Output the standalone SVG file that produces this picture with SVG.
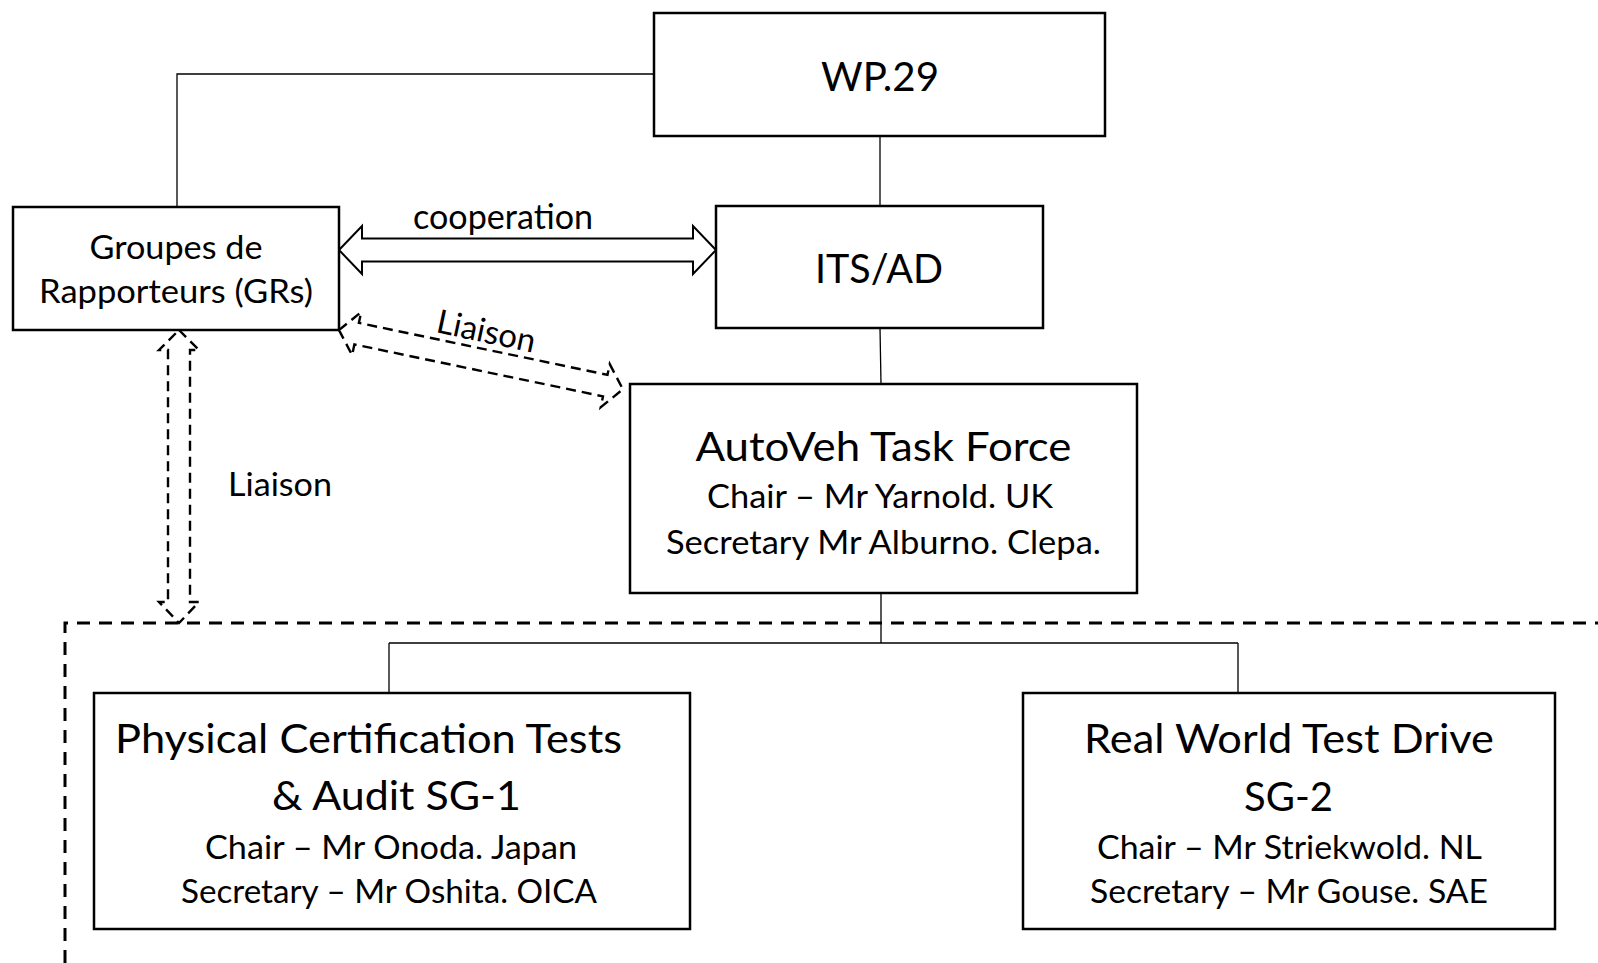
<svg xmlns="http://www.w3.org/2000/svg" width="1598" height="963" viewBox="0 0 1598 963">
<style>
.box{fill:#fff;stroke:#000;stroke-width:2.5}
.conn{fill:none;stroke:#000;stroke-width:1.3}
.blk{fill:#fff;stroke:#000;stroke-width:2}
.dblk{fill:#fff;stroke:#000;stroke-width:2.4;stroke-dasharray:10 6}
.cont{fill:none;stroke:#000;stroke-width:3;stroke-dasharray:13 9}
text{font-family:Lato,"Liberation Sans",sans-serif;fill:#000}
.big{font-size:41px}
.mid{font-size:34px}
.sm{font-size:33px}
.c{text-anchor:middle}
</style>
<rect width="1598" height="963" fill="#fff"/>
<g id="connectors">
<path class="conn" d="M654,74 H177 V207"/>
<path class="conn" d="M880,136 V206"/>
<path class="conn" d="M880,328 L881,384"/>
<path class="conn" d="M881,594 V643 M389,643 H1238 M389,643 V693 M1238,643 V693"/>
<path class="cont" d="M65,963 V623 H1598"/>
<g id="cooperation">
<path class="blk" d="M339,250 L362,226 L362,238.5 L693,238.5 L693,226 L716,250 L693,274 L693,261.5 L362,261.5 L362,274 Z"/>
<text class="mid" x="413" y="229" textLength="180" lengthAdjust="spacingAndGlyphs">cooperation</text>
</g>
<g id="liaison-diag">
<path class="dblk" transform="translate(339,330) rotate(11.8)" d="M0,0 L18,-22 L18,-11 L272,-11 L272,-22 L290,0 L272,22 L272,11 L18,11 L18,22 Z"/>
<text class="sm" transform="translate(435,332) rotate(12)" x="0" y="0" textLength="100" lengthAdjust="spacingAndGlyphs">Liaison</text>
</g>
<g id="liaison-vert">
<path class="dblk" d="M179,330 L199,350 L190,350 L190,602 L199,602 L179,623 L159,602 L168,602 L168,350 L159,350 Z"/>
<text class="sm" x="228" y="496" textLength="104" lengthAdjust="spacingAndGlyphs">Liaison</text>
</g>
</g>
<g id="wp29">
<rect class="box" x="654" y="13" width="451" height="123"/>
<text class="big c" x="880" y="91" textLength="118" lengthAdjust="spacingAndGlyphs">WP.29</text>
</g>
<g id="itsad">
<rect class="box" x="716" y="206" width="327" height="122"/>
<text class="big c" x="879" y="283" textLength="128" lengthAdjust="spacingAndGlyphs">ITS/AD</text>
</g>
<g id="grs">
<rect class="box" x="13" y="207" width="326" height="123"/>
<text class="sm c" x="176" y="259" textLength="173" lengthAdjust="spacingAndGlyphs">Groupes de</text>
<text class="sm c" x="176" y="303" textLength="274" lengthAdjust="spacingAndGlyphs">Rapporteurs (GRs)</text>
</g>
<g id="autoveh">
<rect class="box" x="630" y="384" width="507" height="209"/>
<text class="big c" x="883.5" y="461" textLength="376" lengthAdjust="spacingAndGlyphs">AutoVeh Task Force</text>
<text class="sm c" x="880" y="508" textLength="346" lengthAdjust="spacingAndGlyphs">Chair – Mr Yarnold. UK</text>
<text class="sm c" x="883.5" y="554" textLength="435" lengthAdjust="spacingAndGlyphs">Secretary Mr Alburno. Clepa.</text>
</g>
<g id="sg1">
<rect class="box" x="94" y="693" width="596" height="236"/>
<text class="big" x="115" y="753" textLength="507" lengthAdjust="spacingAndGlyphs">Physical Certification Tests</text>
<text class="big" x="272" y="810" textLength="249" lengthAdjust="spacingAndGlyphs">&amp; Audit SG-1</text>
<text class="sm" x="205" y="859" textLength="372" lengthAdjust="spacingAndGlyphs">Chair – Mr Onoda. Japan</text>
<text class="sm" x="181" y="903" textLength="416" lengthAdjust="spacingAndGlyphs">Secretary – Mr Oshita. OICA</text>
</g>
<g id="sg2">
<rect class="box" x="1023" y="693" width="532" height="236"/>
<text class="big" x="1084" y="753" textLength="410" lengthAdjust="spacingAndGlyphs">Real World Test Drive</text>
<text class="big" x="1244" y="811" textLength="89" lengthAdjust="spacingAndGlyphs">SG-2</text>
<text class="sm" x="1097" y="859" textLength="385" lengthAdjust="spacingAndGlyphs">Chair – Mr Striekwold. NL</text>
<text class="sm" x="1090" y="903" textLength="398" lengthAdjust="spacingAndGlyphs">Secretary – Mr Gouse. SAE</text>
</g>
</svg>
